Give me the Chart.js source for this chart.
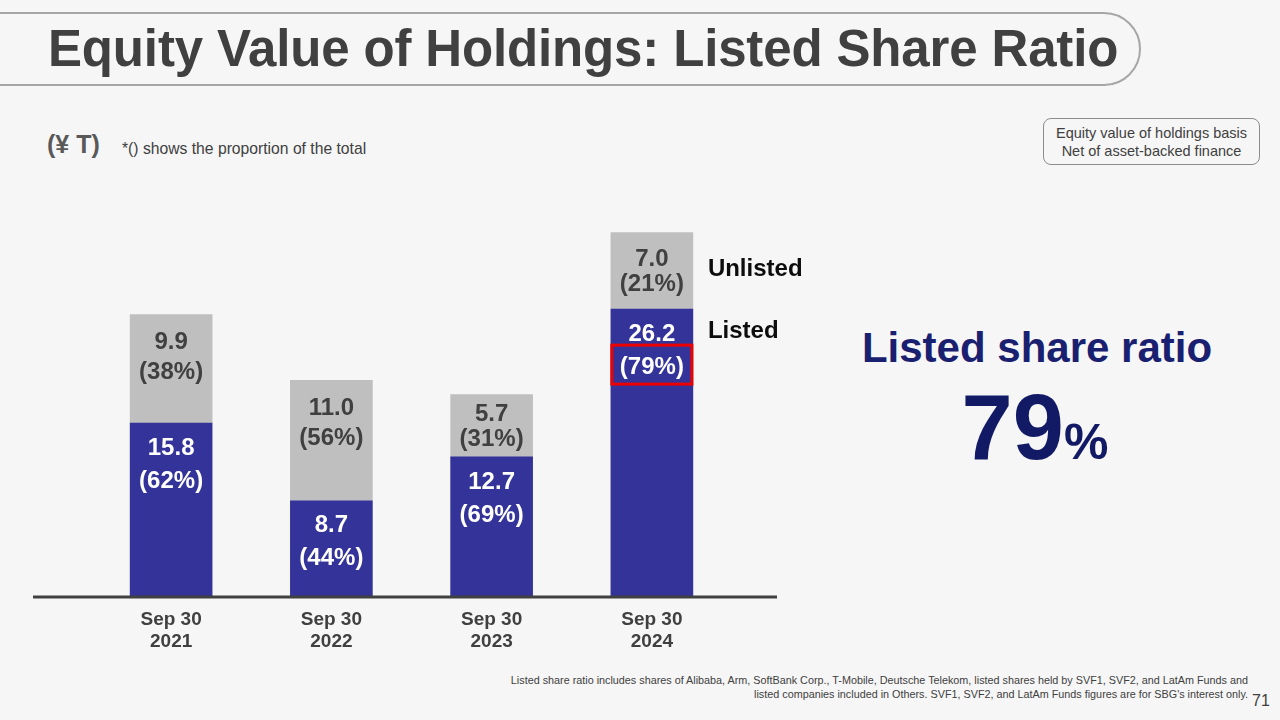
<!DOCTYPE html>
<html>
<head>
<meta charset="utf-8">
<script src="https://cdn.jsdelivr.net/npm/chart.js@4.4.1/dist/chart.umd.min.js"></script>
<style>
body{margin:0;width:1280px;height:720px;background:#f6f6f6;font-family:"Liberation Sans",Arial,sans-serif;position:relative;overflow:hidden}
.abs{position:absolute;white-space:nowrap}
#titleBox{left:-60px;top:12px;width:1197px;height:70px;border:2px solid #a6a6a6;border-radius:37px}
#title{left:48px;top:13px;font-size:51px;font-weight:bold;color:#404040;line-height:72px;letter-spacing:-0.15px}
#unit{left:47px;top:130px;font-size:25px;font-weight:bold;color:#595959}
#note{left:122px;top:140px;font-size:15.7px;color:#404040}
#basis{left:1043px;top:118px;width:217px;height:47px;border:1px solid #8c8c8c;border-radius:8px;font-size:14.5px;color:#404040;text-align:center;line-height:18px;box-sizing:border-box;padding-top:5px}
#ratioLbl{left:837px;width:400px;top:324px;text-align:center;font-size:42px;font-weight:bold;color:#1a2070}
#ratioVal{left:835px;width:400px;top:372px;text-align:center;font-weight:bold;color:#121a66;line-height:110px}
#ratioVal .n{font-size:92px}
#ratioVal .p{font-size:50px}
#foot{right:32px;top:674px;font-size:10.8px;color:#404040;text-align:right;line-height:13.5px}
#page{left:1252px;top:692px;font-size:16px;color:#404040}
#wrap{left:33px;top:150px;width:800px;height:518px}
</style>
</head>
<body>
<div id="titleBox" class="abs"></div>
<div id="title" class="abs">Equity Value of Holdings: Listed Share Ratio</div>
<div id="unit" class="abs">(¥ T)</div>
<div id="note" class="abs">*() shows the proportion of the total</div>
<div id="basis" class="abs">Equity value of holdings basis<br>Net of asset-backed finance</div>
<div id="ratioLbl" class="abs">Listed share ratio</div>
<div id="ratioVal" class="abs"><span class="n">79</span><span class="p">%</span></div>
<div id="foot" class="abs">Listed share ratio includes shares of Alibaba, Arm, SoftBank Corp., T-Mobile, Deutsche Telekom, listed shares held by SVF1, SVF2, and LatAm Funds and<br>listed companies included in Others. SVF1, SVF2, and LatAm Funds figures are for SBG's interest only.</div>
<div id="page" class="abs">71</div>
<div id="wrap" class="abs"><canvas id="chart"></canvas></div>
<script>
const periods = [["Sep 30", "2021"], ["Sep 30", "2022"], ["Sep 30", "2023"], ["Sep 30", "2024"]]
const listed = [15.8, 8.7, 12.7, 26.2]
const unlisted = [9.9, 11.0, 5.7, 7.0]
const listedPct = [62, 44, 69, 79]
const unlistedPct = [38, 56, 31, 21]

const font = '"Liberation Sans", Arial, sans-serif'

// value + percentage labels, series names, red box, baseline
const labelPlugin = {
  id: "labels",
  afterDatasetsDraw(chart) {
    const ctx = chart.ctx
    const listedBars = chart.getDatasetMeta(0).data
    const unlistedBars = chart.getDatasetMeta(1).data
    ctx.save()
    ctx.textAlign = "center"
    ctx.textBaseline = "middle"
    ctx.font = "bold 24px " + font
    listedBars.forEach((bar, i) => {
      ctx.fillStyle = "#ffffff"
      ctx.fillText(listed[i].toFixed(1), bar.x, bar.y + 25)
      ctx.fillText("(" + listedPct[i] + "%)", bar.x, bar.y + 58)
    })
    unlistedBars.forEach((bar, i) => {
      const h = bar.base - bar.y
      let y1, y2
      if (h >= 90) {
        y1 = bar.y + 28
        y2 = bar.y + 58
      } else {
        y1 = bar.y + h / 2 - 11
        y2 = bar.y + h / 2 + 14
      }
      ctx.fillStyle = "#404040"
      ctx.fillText(unlisted[i].toFixed(1), bar.x, y1)
      ctx.fillText("(" + unlistedPct[i] + "%)", bar.x, y2)
    })
    // red highlight around latest listed share
    const last = listedBars[listedBars.length - 1]
    ctx.strokeStyle = "#ee0000"
    ctx.lineWidth = 3
    ctx.strokeRect(last.x - 40, last.y + 36, 80, 39)
    // series names next to last bar
    const lastU = unlistedBars[unlistedBars.length - 1]
    ctx.textAlign = "left"
    ctx.fillStyle = "#0d0d0d"
    ctx.fillText("Unlisted", last.x + 56, (lastU.y + lastU.base) / 2 - 1)
    ctx.fillText("Listed", last.x + 56, last.y + 22)
    // baseline across the plot width
    const y0 = chart.scales.y.getPixelForValue(0)
    ctx.strokeStyle = "#404040"
    ctx.lineWidth = 3
    ctx.beginPath()
    ctx.moveTo(0, y0 + 1)
    ctx.lineTo(chart.chartArea.right + 45, y0 + 1)
    ctx.stroke()
    ctx.restore()
  }
}

new Chart(document.getElementById("chart"), {
  type: "bar",
  data: {
    labels: periods,
    datasets: [
      { label: "Listed", data: listed, backgroundColor: "#333399" },
      { label: "Unlisted", data: unlisted, backgroundColor: "#bfbfbf" }
    ]
  },
  options: {
    responsive: true,
    maintainAspectRatio: false,
    animation: false,
    layout: { padding: { top: 8, left: 58, right: 101, bottom: 0 } },
    datasets: { bar: { barThickness: 82 } },
    plugins: { legend: { display: false }, tooltip: { enabled: false } },
    scales: {
      x: {
        stacked: true,
        grid: { display: false, drawTicks: false },
        border: { display: false },
        ticks: {
          color: "#404040",
          padding: 13,
          font: { family: font, size: 19, weight: "bold", lineHeight: 1.16 }
        },
        afterFit(scale) { scale.height = 72 }
      },
      y: {
        stacked: true,
        display: false,
        min: 0,
        max: 40
      }
    }
  },
  plugins: [labelPlugin]
})
</script>
</body>
</html>
